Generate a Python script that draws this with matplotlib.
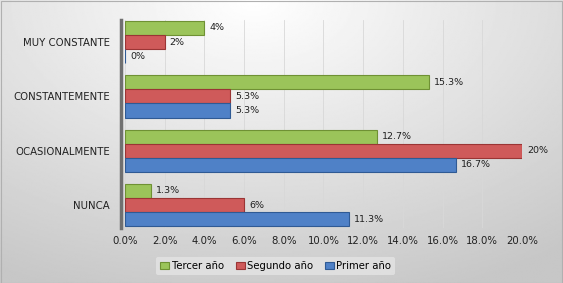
import numpy as np
import matplotlib.pyplot as plt
from matplotlib.patches import Rectangle

# categories bottom -> top
categories = ['NUNCA', 'OCASIONALMENTE', 'CONSTANTEMENTE', 'MUY CONSTANTE']
series = ['Tercer año', 'Segundo año', 'Primer año']
primer = [11.3, 16.7, 5.3, 0.0]
segundo = [6.0, 20.0, 5.3, 2.0]
tercer = [1.3, 12.7, 15.3, 4.0]
primer_lbl = ['11.3%', '16.7%', '5.3%', '0%']
segundo_lbl = ['6%', '20%', '5.3%', '2%']
tercer_lbl = ['1.3%', '12.7%', '15.3%', '4%']
xticks = np.arange(0, 21, 2)

colors = {'Tercer año': ('#9bc45a', '#6f9134'),
          'Segundo año': ('#cf5a5a', '#9a3535'),
          'Primer año': ('#4f81c7', '#2f5a94')}

fig = plt.figure(figsize=(5.63, 2.83), dpi=100)

# gradient background
bg = fig.add_axes([0, 0, 1, 1])
yy, xx = np.mgrid[0:1:200j, 0:1:400j]
r = np.sqrt(((xx - 0.45) / 0.9) ** 2 + ((yy - 0.0) / 1.1) ** 2)
bg.imshow(1 - 0.22 * np.clip(r, 0, 1), cmap='gray', vmin=0, vmax=1,
          aspect='auto', extent=[0, 1, 0, 1], origin='upper')
bg.set_axis_off()
bg.add_patch(Rectangle((0.001, 0.001), 0.997, 0.997, fill=False,
                       edgecolor='#b0b0b0', lw=0.8, transform=bg.transAxes))

ax = fig.add_axes([0.222, 0.195, 0.705, 0.735])
ax.patch.set_alpha(0)

y = np.arange(len(categories))
h = 0.26
data = [(tercer, tercer_lbl, 'Tercer año', h),
        (segundo, segundo_lbl, 'Segundo año', 0),
        (primer, primer_lbl, 'Primer año', -h)]

for vals, lbls, name, off in data:
    fc, ec = colors[name]
    ax.barh(y + off, vals, height=h, color=fc, edgecolor=ec, lw=0.8,
            label=name, zorder=3)
    for yi, v, t in zip(y, vals, lbls):
        ax.text(v + 0.25, yi + off, t, va='center', ha='left', fontsize=6.8,
                color='#202020', zorder=4)

ax.set_xlim(0, 20)
ax.set_ylim(-0.42, 3.41)
ax.set_xticks(xticks)
ax.set_xticklabels(['%.1f%%' % v for v in xticks])
ax.set_yticks(y)
ax.set_yticklabels(categories)
ax.tick_params(axis='x', length=0, pad=6, labelsize=7.3, labelcolor='#202020')
ax.tick_params(axis='y', length=0, pad=8, labelsize=7.3, labelcolor='#202020')
ax.grid(axis='x', color='#d8d8d8', lw=0.6, zorder=0)
for s in ['top', 'right', 'bottom']:
    ax.spines[s].set_visible(False)
ax.spines['left'].set_color('#707070')
ax.spines['left'].set_linewidth(2.5)
ax.spines['left'].set_position(('outward', 3))

handles, labels = ax.get_legend_handles_labels()
leg = fig.legend(handles, labels, loc='center', bbox_to_anchor=(0.49, 0.06),
                 ncol=3, fontsize=7.3, frameon=True, handlelength=0.9,
                 handleheight=0.8, handletextpad=0.2, columnspacing=1.2,
                 borderpad=0.4)
leg.get_frame().set_facecolor('#e4e4e4')
leg.get_frame().set_edgecolor('none')

fig.savefig('out.png', dpi=100)
